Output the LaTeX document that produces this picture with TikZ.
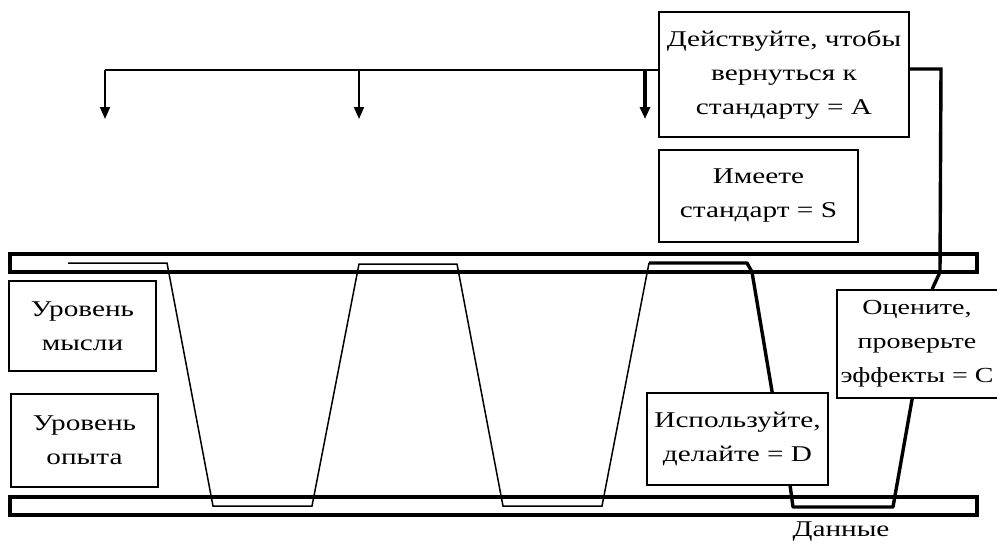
\documentclass[tikz,border=0pt]{standalone}
\usepackage{fontspec}
\setmainfont{Liberation Serif}[FakeStretch=1.3]
\usetikzlibrary{arrows.meta,calc}
\begin{document}
\begin{tikzpicture}[x=1pt,y=-1pt,
  box/.style={draw,line width=1.7pt,inner sep=0pt,align=center,
    font=\fontsize{22.5}{34}\selectfont},
  bar/.style={draw,line width=3.6pt,inner sep=0pt},
  wave/.style={line width=1.5pt,line join=miter},
  cycle/.style={line width=3.4pt,line join=round},
  feed/.style={line width=1.9pt,-{Triangle[width=10pt,length=12pt]}},
  lbl/.style={inner sep=0pt,font=\fontsize{22.5}{34}\selectfont}]
\useasboundingbox (0,0) rectangle (997,547);
\fill[white] (0,0) rectangle (997,547);

% the two level bars
\node[bar,minimum width=967pt,minimum height=18pt] (topbar) at (493.5,263) {};
\node[bar,minimum width=967pt,minimum height=18pt] (botbar) at (493.5,506) {};

% text boxes
\node[box,minimum width=250pt,minimum height=125pt] (A) at (784,74.5)
  {Действуйте, чтобы\\вернуться к\\стандарту = A};
\node[box,minimum width=199pt,minimum height=92pt] (S) at (758.5,196)
  {Имеете\\стандарт = S};
\node[box,minimum width=181pt,minimum height=92pt] (D) at (737.5,439)
  {Используйте,\\делайте = D};
\node[box,minimum width=166pt,minimum height=108pt] (C) at (920,344) {};
\node[inner sep=0pt,align=center,font=\fontsize{21.5}{34}\selectfont] (Ctext) at (917,344)
  {Оцените,\\проверьте\\эффекты = C};
\node[box,minimum width=147pt,minimum height=90pt] (think) at (82.5,326)
  {Уровень\\мысли};
\node[box,minimum width=147pt,minimum height=93pt] (exp) at (84.5,440.5)
  {Уровень\\опыта};
\node[lbl] (data) at (841,532) {Данные};

% earlier passes between the levels
\coordinate (w0) at (68,263);
\coordinate (w1) at (167,263);
\coordinate (w2) at (213,506);
\coordinate (w3) at (312,506);
\coordinate (w4) at (359,264);
\coordinate (w5) at (457,264);
\coordinate (w6) at (503,506);
\coordinate (w7) at (602,506);
\coordinate (w8) at (649,263);
\draw[wave] (w0) -- (w1) -- (w2) -- (w3) -- (w4) -- (w5) -- (w6) -- (w7) -- (w8);

% current cycle S -> D -> C -> A
\coordinate (p1) at (747,263);
\coordinate (p2) at (752,272);
\draw[cycle] (w8) -- (p1) -- (p2) -- ([xshift=126pt]D.north west);
\coordinate (q1) at (793,507);
\coordinate (q2) at (893,507);
\draw[cycle] ([xshift=144pt]D.south west) -- (q1) -- (q2) -- ([xshift=76pt]C.south west);
\coordinate (r1) at (940,272);
\coordinate (r2) at (941,69);
\draw[cycle,line join=miter] ([xshift=96pt]C.north west) -- (r1) -- (r2) -- ([yshift=5.5pt]A.east);

% feedback to earlier stages
\coordinate (f0) at (105,70);
\coordinate (f1) at (359,70);
\coordinate (f2) at (645,70);
\coordinate (t0) at (105,119);
\coordinate (t1) at (359,119);
\coordinate (t2) at (645,119);
\draw[line width=1.9pt] ([yshift=4.5pt]A.west) -- (f0);
\draw[feed] (f0) -- (t0);
\draw[feed] (f1) -- (t1);
\draw[feed,line width=3.4pt] (f2) -- (t2);
\end{tikzpicture}
\end{document}
